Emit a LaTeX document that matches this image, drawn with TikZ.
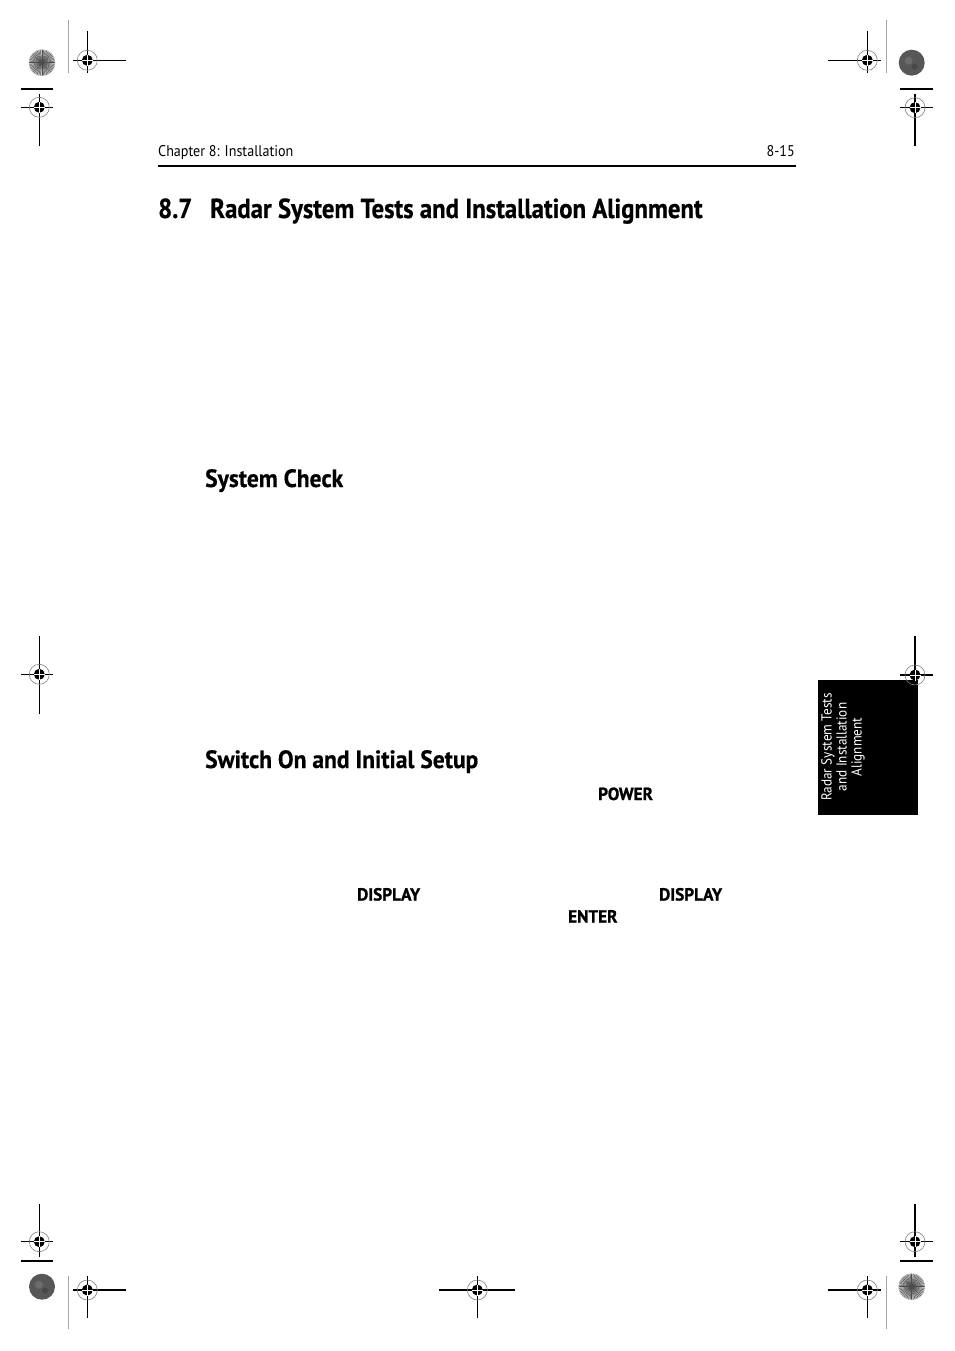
\documentclass[tikz,border=0pt]{standalone}
\usepackage{fontspec}
\newfontfamily\myr[FakeStretch=0.91]{PT Sans}
\newfontfamily\myrhead[FakeStretch=0.90,FakeBold=0.6]{PT Sans Bold}
\newfontfamily\myrsub[FakeStretch=0.94,FakeBold=0.5]{PT Sans Bold}
\newfontfamily\myrkey[FakeStretch=0.98,FakeBold=1.2]{PT Sans Bold}
\begin{document}
\begin{tikzpicture}[x=1pt,y=-1pt,
  cropline/.style={black,line width=1.3pt},
  grayline/.style={gray!70,line width=1pt},
  hdr/.style={font=\myr\fontsize{15.5}{18}\selectfont,inner sep=0pt},
  keyword/.style={font=\myrkey\fontsize{17.5}{20}\selectfont,inner sep=0pt,anchor=base west},
  subhead/.style={font=\myrsub\fontsize{25}{28}\selectfont,inner sep=0pt,anchor=base west},
  regtarget/.pic={
    \draw[gray,line width=0.6pt] (0,0) circle (10pt);
    \fill[black] (0,0) circle (5.5pt);
    \draw[white,line width=1pt] (-5.5,0)--(5.5,0) (0,-5.5)--(0,5.5);
  },
  starburst/.pic={
    \fill[gray!45] (0,0) circle (13pt);
    \foreach \a in {0,7.5,...,352.5}{\draw[black!70,line width=0.45pt] (0,0)--(\a:13pt);}
    \draw[gray!60,line width=0.5pt] (0,0) circle (13pt);
  },
  darkdot/.pic={
    \fill[black!66] (0,0) circle (13pt);
    \fill[black!58] (-3,-2) circle (4pt);
    \fill[black!72] (3,4) circle (3pt);
  }]
\useasboundingbox (0,0) rectangle (954,1351);
\fill[white] (0,0) rectangle (954,1351);

% ---------- corner marks: top left ----------
\pic at (42,62.7) {starburst};
\draw[grayline] (68,20)--(68,73);
\draw[cropline] (73,60.3)--(126,60.3) (87.3,31)--(87.3,73);
\pic at (87.3,60.3) {regtarget};
\draw[cropline] (21,89)--(53,89);
\draw[cropline] (21,107.3)--(53,107.3) (39.3,94)--(39.3,146);
\pic at (39.3,107.3) {regtarget};

% ---------- top right ----------
\draw[cropline] (828,60.3)--(881,60.3) (867.3,31)--(867.3,73);
\pic at (867.3,60.3) {regtarget};
\draw[grayline] (886.3,20)--(886.3,73);
\pic at (911.7,62.7) {darkdot};
\draw[cropline] (900,89)--(933,89);
\draw[cropline] (900,107.7)--(933,107.7) (915,94)--(915,146);
\pic at (915,107.7) {regtarget};

% ---------- middle left ----------
\draw[cropline] (21,674.3)--(53,674.3) (39.3,636)--(39.3,714);
\pic at (39.3,674.3) {regtarget};

% ---------- middle right + tab ----------
\draw[cropline] (900,675)--(933,675) (915,636)--(915,714);
\fill[black] (818,680) rectangle (917.7,815);
\pic at (915,675) {regtarget};
\node[font=\myr\fontsize{14.5}{15}\selectfont,text=white,rotate=90,align=center,inner sep=0pt]
  (tab) at (843,747) {Radar System Tests\\and Installation\\Alignment};

% ---------- bottom left ----------
\draw[cropline] (21,1241.7)--(53,1241.7) (39.3,1204)--(39.3,1257);
\pic at (39.3,1241.7) {regtarget};
\draw[cropline] (21,1261)--(53,1261);
\pic at (42,1286.7) {darkdot};
\draw[grayline] (68,1276)--(68,1329);
\draw[cropline] (73,1290)--(126,1290) (87.3,1276)--(87.3,1318);
\pic at (87.3,1290) {regtarget};

% ---------- bottom centre ----------
\draw[cropline] (439,1290)--(515,1290) (477.3,1276)--(477.3,1318);
\pic at (477.3,1290) {regtarget};

% ---------- bottom right ----------
\draw[cropline] (900,1241.7)--(933,1241.7) (915,1204)--(915,1257);
\pic at (915,1241.7) {regtarget};
\draw[cropline] (900,1261)--(933,1261);
\pic at (911.7,1286.7) {starburst};
\draw[grayline] (886.3,1276)--(886.3,1329);
\draw[cropline] (828,1290)--(881,1290) (867.3,1276)--(867.3,1318);
\pic at (867.3,1290) {regtarget};

% ---------- running header ----------
\node[hdr,anchor=base west] (chap) at (158,157) {Chapter 8: Installation};
\node[hdr,anchor=base east] (pg) at (795,157) {8-15};
\draw[black,line width=1.1pt] (158,166)--(796,166);

% ---------- headings ----------
\node[font=\myrhead\fontsize{27.5}{30}\selectfont,inner sep=0pt,anchor=base west]
  (sec) at (158,218) {8.7\hspace{0.65em}Radar System Tests and Installation Alignment};
\node[subhead] (syscheck) at (205,487) {System Check};
\node[subhead] (switchon) at (205,768) {Switch On and Initial Setup};

% ---------- key names ----------
\node[keyword] (power) at (598,800) {POWER};
\node[keyword] (disp1) at (357,900.5) {DISPLAY};
\node[keyword] (disp2) at (659,900.5) {DISPLAY};
\node[keyword] (enter) at (568,922.5) {ENTER};
\end{tikzpicture}
\end{document}
